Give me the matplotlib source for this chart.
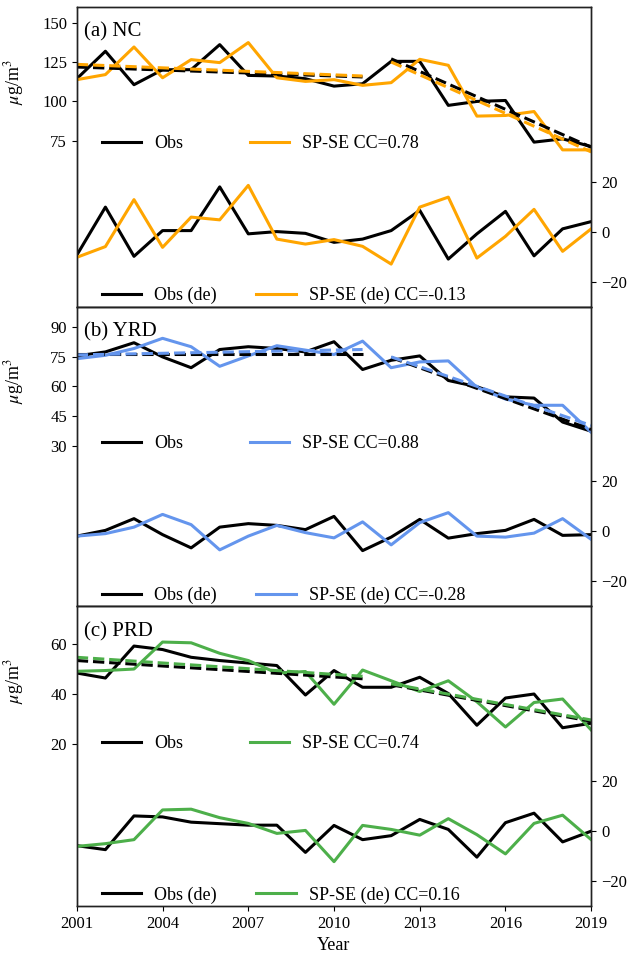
"""
Observed vs SP-SE PM2.5 over NC / YRD / PRD, 2001-2019.
Raw series (left axis) with piecewise linear trends, and the
detrended series (right axis) underneath.
"""

import numpy as np
import matplotlib
matplotlib.use("Agg")
import matplotlib.pyplot as plt

years = np.arange(2001, 2020)
seg1_years = [2001, 2011]
seg2_years = [2012, 2019]

panel_titles = ["(a) NC", "(b) YRD", "(c) PRD"]
model_colors = ["#FFA500", "#6495ED", "#4DAF4A"]
cc_raw = ["0.78", "0.88", "0.74"]
cc_de = ["-0.13", "-0.28", "0.16"]

# raw concentrations (ug/m3)
nc_obs = [114.4, 131.8, 110.6, 120.1, 120.1, 136.0, 116.5, 116.1, 114.4, 109.7,
          111.2, 125.4, 125.4, 97.5, 100.0, 100.6, 74.2, 76.3, 71.4]
nc_model = [113.8, 117.0, 134.5, 115.0, 126.5, 124.6, 137.3, 115.0, 112.7, 113.8,
            110.2, 111.9, 126.7, 122.9, 90.7, 91.1, 93.6, 69.3, 69.3]
yrd_obs = [75.3, 77.3, 81.9, 74.8, 69.4, 78.5, 79.9, 79.0, 77.3, 82.4,
           68.5, 73.1, 75.3, 63.0, 59.9, 54.8, 54.2, 42.2, 37.6]
yrd_model = [73.9, 75.6, 79.0, 84.1, 79.9, 70.1, 75.3, 80.4, 78.2, 76.0,
             82.7, 69.4, 72.3, 72.8, 59.6, 53.7, 50.6, 50.6, 37.1]
prd_obs = [48.3, 46.3, 59.1, 57.7, 54.6, 53.3, 52.3, 51.3, 39.5, 49.3,
           42.6, 42.6, 46.6, 40.1, 27.4, 38.3, 39.9, 26.4, 28.2]
prd_model = [49.0, 49.3, 49.9, 60.7, 60.4, 56.2, 53.3, 48.3, 48.9, 35.8,
             49.5, 45.2, 40.9, 45.2, 36.8, 26.7, 36.5, 37.9, 25.5]

# trend values at 2001, 2011, 2012, 2019
nc_obs_trend = [121.8, 115.5, 127.0, 71.0]
nc_model_trend = [123.5, 116.1, 125.0, 68.0]
yrd_obs_trend = [76.3, 76.3, 74.5, 38.5]
yrd_model_trend = [75.8, 78.5, 74.8, 40.5]
prd_obs_trend = [53.3, 46.0, 43.6, 29.0]
prd_model_trend = [54.6, 47.0, 44.0, 29.5]

# detrended series
nc_obs_de = [-9.4, 9.8, -9.9, 0.4, 0.4, 17.9, -0.9, 0.0, -0.7, -4.3,
             -3.0, 0.4, 8.5, -11.0, -0.9, 8.1, -9.7, 1.1, 4.0]
nc_model_de = [-10.3, -6.0, 12.8, -6.3, 5.8, 4.7, 18.5, -3.0, -5.0, -3.2,
               -5.9, -13.0, 9.8, 13.8, -10.6, -1.9, 8.9, -7.9, 1.1]
yrd_obs_de = [-1.9, 0.4, 5.1, -1.3, -6.6, 1.7, 3.1, 2.4, 0.7, 6.0,
              -7.7, -2.3, 4.8, -2.7, -0.9, 0.4, 4.8, -1.6, -1.3]
yrd_model_de = [-1.9, -0.9, 1.7, 6.8, 2.7, -7.4, -1.9, 2.4, -0.5, -2.6,
                3.8, -5.4, 3.5, 7.5, -1.9, -2.3, -0.7, 5.1, -3.2]
prd_obs_de = [-5.8, -7.4, 6.1, 5.7, 3.6, 3.0, 2.4, 2.4, -8.5, 2.3,
              -3.4, -1.8, 4.7, 0.7, -10.4, 3.4, 7.2, -4.3, 0.0]
prd_model_de = [-6.1, -5.0, -3.4, 8.5, 8.8, 5.4, 3.1, -0.9, 0.3, -12.2,
                2.3, 0.7, -1.6, 5.0, -1.4, -9.1, 3.1, 6.4, -3.4]

OBS = [nc_obs, yrd_obs, prd_obs]
MODEL = [nc_model, yrd_model, prd_model]
OBS_TREND = [nc_obs_trend, yrd_obs_trend, prd_obs_trend]
MODEL_TREND = [nc_model_trend, yrd_model_trend, prd_model_trend]
OBS_DE = [nc_obs_de, yrd_obs_de, prd_obs_de]
MODEL_DE = [nc_model_de, yrd_model_de, prd_model_de]

LEFT_YLIM = [(-30, 160), (-50, 100), (-45, 75)]
LEFT_TICKS = [[75, 100, 125, 150], [30, 45, 60, 75, 90], [20, 40, 60]]

plt.rcParams["font.family"] = ["Liberation Serif", "DejaVu Serif"]
plt.rcParams["mathtext.fontset"] = "stix"
plt.rcParams["font.size"] = 12
plt.rcParams["axes.linewidth"] = 1.0
plt.rcParams["axes.edgecolor"] = "#222222"

LW = 2.2


def draw_panel(ax, i):
    color = model_colors[i]
    ax.plot(years, OBS[i], color="black", lw=LW, label="Obs")
    ax.plot(years, MODEL[i], color=color, lw=LW, label=f"SP-SE CC={cc_raw[i]}")
    for tr, c in [(OBS_TREND[i], "black"), (MODEL_TREND[i], color)]:
        ax.plot(seg1_years, tr[:2], color=c, lw=LW, ls="--")
        ax.plot(seg2_years, tr[2:], color=c, lw=LW, ls="--")
    ax.set_ylim(*LEFT_YLIM[i])
    ax.set_yticks(LEFT_TICKS[i])
    ax.set_xlim(2001, 2019)
    ax.set_ylabel(r"$\mu$g/m$^3$", fontsize=13)
    ax.yaxis.set_label_coords(-0.098, 0.75)
    ax.text(0.014, 0.915, panel_titles[i], transform=ax.transAxes,
            fontsize=15, va="center", ha="left")
    ax.legend(loc="center left", bbox_to_anchor=(0.048, 0.543), ncol=2,
              frameon=False, fontsize=13, handlelength=2.2, handletextpad=0.7,
              columnspacing=3.7, borderpad=0, borderaxespad=0)

    ax2 = ax.twinx()
    ax2.plot(years, OBS_DE[i], color="black", lw=LW, label="Obs (de)")
    ax2.plot(years, MODEL_DE[i], color=color, lw=LW,
             label=f"SP-SE (de) CC={cc_de[i]}")
    ax2.set_ylim(-30, 90)
    ax2.set_yticks([-20, 0, 20])
    ax2.legend(loc="center left", bbox_to_anchor=(0.048, 0.037), ncol=2,
               frameon=False, fontsize=13, handlelength=2.2, handletextpad=0.7,
               columnspacing=2.2, borderpad=0, borderaxespad=0)
    return ax2


fig, axes = plt.subplots(3, 1, figsize=(6.35, 9.66), dpi=100, sharex=True)
fig.subplots_adjust(left=0.121, right=0.931, top=0.993, bottom=0.062, hspace=0)

for i, ax in enumerate(axes):
    draw_panel(ax, i)
    if i < 2:
        ax.tick_params(axis="x", length=0)

axes[-1].set_xticks([2001, 2004, 2007, 2010, 2013, 2016, 2019])
axes[-1].set_xlabel("Year", fontsize=13)

fig.savefig("out.png", dpi=100)
